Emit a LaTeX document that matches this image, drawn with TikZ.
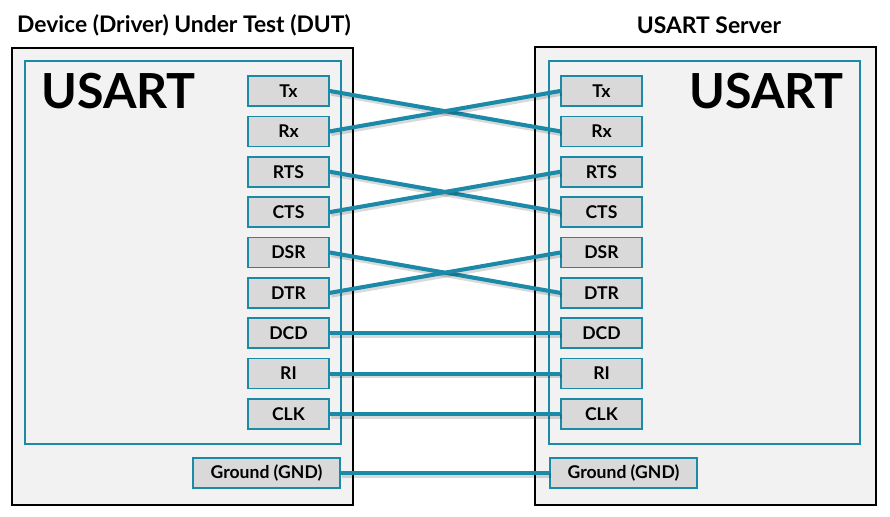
\documentclass[tikz,border=0pt]{standalone}
\usepackage{fontspec}
\setmainfont{Lato}
\usetikzlibrary{positioning}

\definecolor{wire}{HTML}{1A8AA8}
\definecolor{pinfill}{HTML}{D9D9D9}
\definecolor{boxfill}{HTML}{F2F2F2}

\begin{document}
\begin{tikzpicture}[x=0.02cm, y=-0.02cm,
    outer/.style={draw=black, fill=boxfill, line width=1.7pt},
    inner/.style={draw=wire, line width=0.9pt},
    pin/.style={draw=wire, fill=pinfill, line width=0.9pt, minimum width=1.62cm,
      minimum height=0.6cm, inner sep=0pt, font=\bfseries\fontsize{10}{12}\selectfont},
    gnd/.style={pin, minimum width=2.94cm},
    link/.style={draw=wire, line width=2.3pt,
      preaction={draw=black, opacity=0.15, line width=2.6pt,
        transform canvas={shift={(0.8pt,-1.4pt)}}}},
    title/.style={font=\bfseries\fontsize{13}{15}\selectfont},
    big/.style={font=\bfseries\fontsize{27.5}{30}\selectfont, inner sep=0pt}]

    \useasboundingbox (0,0) rectangle (890,517);

    % housings
    \draw[outer] (12,48) rectangle (353,505);
    \draw[outer] (535,47) rectangle (876,505);
    \draw[inner] (25,61) rectangle (341,444);
    \draw[inner] (549,61) rectangle (860,444);

    \node[title] (dut) at (184,25) {Device (Driver) Under Test (DUT)};
    \node[title] (srv) at (709,25) {USART Server};
    \node[big, anchor=west] (usartL) at (41,91) {USART};
    \node[big, anchor=east] (usartR) at (844,91) {USART};

    % pins
    \foreach \p [count=\i] in {Tx,Rx,RTS,CTS,DSR,DTR,DCD,RI,CLK} {
      \node[pin] (l\p) at (288.5, {91+40.375*(\i-1)}) {\p};
      \node[pin] (r\p) at (601.5, {91+40.375*(\i-1)}) {\p};
    }
    \node[gnd] (lGND) at (266.5,473) {Ground (GND)};
    \node[gnd] (rGND) at (623.5,473) {Ground (GND)};

    % wiring
    \foreach \a/\b in {Tx/Rx, Rx/Tx, RTS/CTS, CTS/RTS, DSR/DTR, DTR/DSR,
                       DCD/DCD, RI/RI, CLK/CLK, GND/GND}
      \draw[link] (l\a.east) -- (r\b.west);

\end{tikzpicture}
\end{document}
